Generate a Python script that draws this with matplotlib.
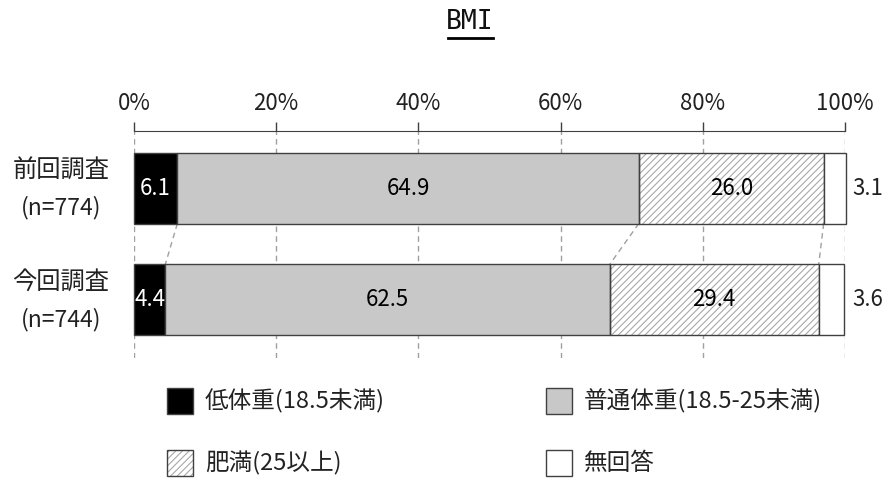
import matplotlib.pyplot as plt
from matplotlib.patches import Rectangle
from matplotlib.lines import Line2D
from matplotlib.transforms import blended_transform_factory

plt.rcParams['font.family'] = ['Noto Sans CJK JP', 'DejaVu Sans']
plt.rcParams['hatch.linewidth'] = 0.8

groups = ['前回調査', '今回調査']
sample_sizes = ['(n=774)', '(n=744)']
categories = ['低体重(18.5未満)', '普通体重(18.5-25未満)', '肥満(25以上)', '無回答']
values = [
    [6.1, 64.9, 26.0, 3.1],
    [4.4, 62.5, 29.4, 3.6],
]
ticks = [0, 20, 40, 60, 80, 100]
tick_labels = ['0%', '20%', '40%', '60%', '80%', '100%']

faces = ['black', '#c8c8c8', 'white', 'white']
hatches = [None, None, '/////', None]
text_colors = ['white', 'black', 'black', 'black']
edge = '#404040'
hatch_col = '#a8a8a8'
txt = '#222222'

W, H = 883, 479
fig = plt.figure(figsize=(W / 100, H / 100), dpi=100)
ax = fig.add_axes([134 / W, 1 - 358 / H, 711 / W, 227 / H])


def draw_segment(add, xy, w, h, j, **kw):
    if hatches[j]:
        add(Rectangle(xy, w, h, facecolor='white', edgecolor=hatch_col,
                      hatch=hatches[j], linewidth=0, zorder=2, **kw))
        add(Rectangle(xy, w, h, fill=False, edgecolor=edge,
                      linewidth=1.0, zorder=3, **kw))
    else:
        add(Rectangle(xy, w, h, facecolor=faces[j], edgecolor=edge,
                      linewidth=1.0, zorder=3, **kw))


bar_h = 0.634
for i, row in enumerate(values):
    left = 0
    for j, v in enumerate(row):
        draw_segment(ax.add_patch, (left, i - bar_h / 2), v, bar_h, j, clip_on=False)
        if j == len(row) - 1:
            ax.text(103.2, i, f'{v:.1f}', ha='center', va='center',
                    fontsize=16, color=txt, clip_on=False)
        else:
            ax.text(left + v / 2, i, f'{v:.1f}', ha='center', va='center',
                    fontsize=16, color=text_colors[j], zorder=4)
        left += v

# dashed connectors between the two bars
c0 = 0
c1 = 0
for j in range(3):
    c0 += values[0][j]
    c1 += values[1][j]
    ax.plot([c0, c1], [bar_h / 2, 1 - bar_h / 2], ls=(0, (4, 3)),
            color='#a0a0a0', lw=1.0, zorder=1)

ax.set_xlim(0, 100)
ax.set_ylim(1.518, -0.509)
ax.set_xticks(ticks)
ax.set_xticklabels(tick_labels, fontsize=16, color=txt)
ax.xaxis.tick_top()
ax.tick_params(axis='x', direction='out', length=6.5, width=1, color='#404040', pad=5)
ax.set_yticks([])
for s in ['right', 'bottom', 'left']:
    ax.spines[s].set_visible(False)
ax.spines['top'].set_color('#404040')
ax.grid(axis='x', ls=(0, (4, 3)), color='#a0a0a0', lw=1.0, zorder=0)
ax.set_axisbelow(True)

# two-line group labels
lab_tr = blended_transform_factory(fig.transFigure, ax.transData)
for i in range(len(groups)):
    ax.text(61 / W, i - 0.16, groups[i], transform=lab_tr, ha='center', va='center',
            fontsize=17.5, color=txt)
    ax.text(61 / W, i + 0.175, sample_sizes[i], transform=lab_tr, ha='center',
            va='center', fontsize=16.5, color=txt)

# title with underline
fig.text(470 / W, 1 - 22 / H, 'BMI', ha='center', va='center',
         fontsize=19, family='DejaVu Sans Mono', color='#111111')
fig.add_artist(Line2D([448 / W, 493 / W], [1 - 38 / H] * 2,
                      color='black', lw=2, transform=fig.transFigure))

# legend
sq = 26
legend_pos = [(167, 401), (546, 401), (167, 463), (546, 463)]
for j, (lx, ly) in enumerate(legend_pos):
    draw_segment(fig.add_artist, (lx / W, 1 - (ly + sq / 2) / H), sq / W, sq / H, j,
                 transform=fig.transFigure)
    fig.text((lx + 38) / W, 1 - ly / H, categories[j], ha='left', va='center',
             fontsize=17, color=txt)

fig.savefig('out.png', dpi=100)
